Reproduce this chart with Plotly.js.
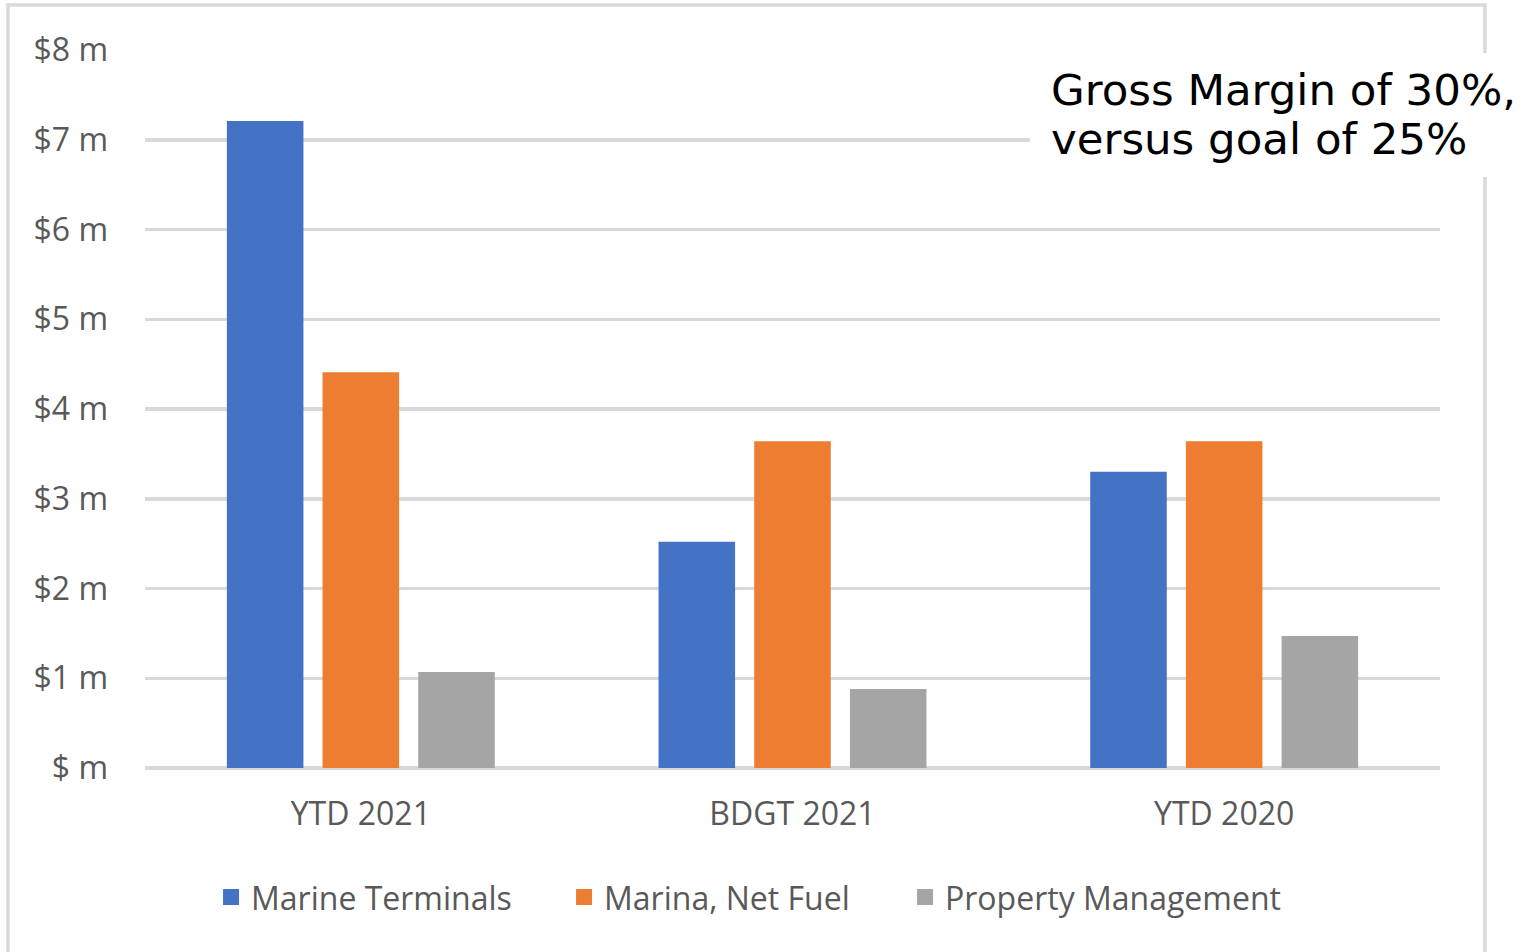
<!DOCTYPE html>
<html>
<head>
<meta charset="utf-8">
<script src="https://cdn.plot.ly/plotly-3.0.1.min.js"></script>
<style>html,body{margin:0;padding:0;background:#fff;}#chart{width:1529px;height:952px;}</style>
</head>
<body>
<div id="chart"></div>
<script>
const categories = ["YTD 2021", "BDGT 2021", "YTD 2020"];
const seriesNames = ["Marine Terminals", "Marina, Net Fuel", "Property Management"];
const marineTerminals = [7.21, 2.52, 3.30];
const marinaNetFuel = [4.41, 3.64, 3.64];
const propertyManagement = [1.07, 0.88, 1.47];
const yTickVals = [0, 1, 2, 3, 4, 5, 6, 7, 8];
const yTickText = ["$ m", "$1 m", "$2 m", "$3 m", "$4 m", "$5 m", "$6 m", "$7 m", "$8 m"];
const noteLines = ["Gross Margin of 30%,", "versus goal of 25%"];

const colors = ["#4472C4", "#ED7D31", "#A5A5A5"];
const values = [marineTerminals, marinaNetFuel, propertyManagement];
const labelFont = "Open Sans, Lato, sans-serif";
const legendIds = ["legend", "legend2", "legend3"];
const legendX = [0.051, 0.3236, 0.5869];

const traces = [];
values.forEach((v, i) => {
  traces.push({type: "bar", x: categories, y: v, name: seriesNames[i],
    marker: {color: colors[i]}, showlegend: false, hoverinfo: "x+y"});
});
values.forEach((v, i) => {
  traces.push({type: "scatter", mode: "markers", x: [null], y: [null], name: seriesNames[i],
    marker: {color: colors[i], symbol: "square", size: 16}, showlegend: true, legend: legendIds[i]});
});

const layout = {
  width: 1529, height: 952,
  margin: {l: 145, r: 89, t: 50, b: 184},
  paper_bgcolor: "#fff", plot_bgcolor: "#fff",
  barmode: "group", bargap: 0.335, bargroupgap: 0.2,
  showlegend: true,
  xaxis: {type: "category", showgrid: false, zeroline: false, showline: false, ticks: "",
    tickfont: {family: labelFont, size: 32, color: "#595959"}, ticklabelstandoff: 24, fixedrange: true},
  yaxis: {range: [0, 8], tickvals: yTickVals, ticktext: yTickText, showgrid: true,
    gridcolor: "#d9d9d9", gridwidth: 3.5, zeroline: true, zerolinecolor: "#d9d9d9", zerolinewidth: 3.5,
    showline: false, ticks: "", tickfont: {family: labelFont, size: 32, color: "#595959"},
    ticklabelstandoff: 36, fixedrange: true},
  shapes: [
    {type: "rect", xref: "paper", yref: "paper", x0: -0.1058, x1: 1.0347, y0: -0.35, y1: 1.0627,
      line: {color: "#d9d9d9", width: 3.5}, fillcolor: "rgba(0,0,0,0)", layer: "below"},
    {type: "rect", xref: "paper", yref: "paper", x0: 0.6834, x1: 1.069, y0: 0.823, y1: 0.9958,
      line: {width: 0}, fillcolor: "#ffffff", layer: "above"}
  ],
  annotations: [
    {xref: "paper", yref: "paper", x: 0.699, y: 0.9805, xanchor: "left", yanchor: "top",
      text: noteLines[0], showarrow: false, align: "left", borderpad: 0,
      font: {family: "DejaVu Sans, Verdana, sans-serif", size: 43.5, color: "#000"}},
    {xref: "paper", yref: "paper", x: 0.699, y: 0.9123, xanchor: "left", yanchor: "top",
      text: noteLines[1], showarrow: false, align: "left", borderpad: 0,
      font: {family: "DejaVu Sans, Verdana, sans-serif", size: 43.5, color: "#000"}}
  ]
};
legendIds.forEach((id, i) => {
  layout[id] = {orientation: "h", x: legendX[i], xanchor: "left", y: -0.18, yanchor: "middle",
    font: {family: labelFont, size: 32, color: "#595959"}, itemclick: false, bgcolor: "rgba(0,0,0,0)"};
});

Plotly.newPlot("chart", traces, layout, {displayModeBar: false, staticPlot: true});
</script>
</body>
</html>
